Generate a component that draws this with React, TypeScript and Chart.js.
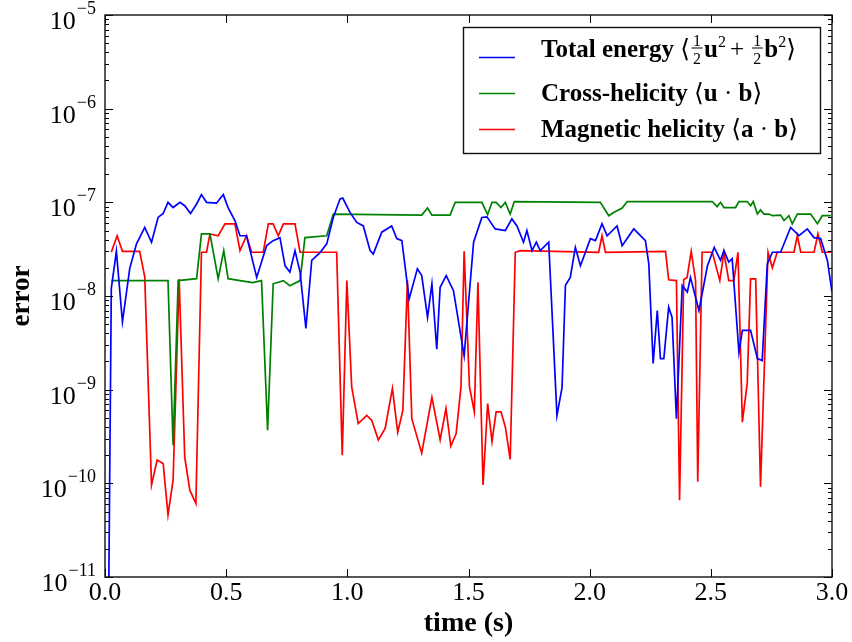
import React, { useEffect, useRef } from "react";
import { Chart, registerables } from "chart.js";

Chart.register(...registerables);

// ---------------- data ----------------
const seriesLabels = ["Total energy", "Cross-helicity", "Magnetic helicity"];
const seriesColors = ["#0000ff", "#008000", "#ff0000"];

const energyTime = [
  0.015, 0.026, 0.047, 0.072, 0.102, 0.130, 0.164, 0.192, 0.219, 0.240, 0.260, 0.281, 0.309, 0.329,
  0.353, 0.378, 0.398, 0.419, 0.460, 0.488, 0.508, 0.536, 0.557, 0.584, 0.626, 0.667, 0.694, 0.722,
  0.743, 0.763, 0.784, 0.805, 0.829, 0.853, 0.887, 0.915, 0.942, 0.970, 0.981, 1.011, 1.039, 1.066,
  1.094, 1.107, 1.142, 1.183, 1.204, 1.225, 1.255, 1.289, 1.307, 1.331, 1.349, 1.369, 1.383, 1.408,
  1.438, 1.482, 1.521, 1.555, 1.576, 1.610, 1.652, 1.679, 1.700, 1.727, 1.741, 1.762, 1.780, 1.796,
  1.831, 1.865, 1.886, 1.900, 1.920, 1.941, 1.962, 2.003, 2.024, 2.051, 2.072, 2.113, 2.134, 2.182,
  2.230, 2.244, 2.262, 2.279, 2.292, 2.306, 2.326, 2.340, 2.358, 2.382, 2.403, 2.416, 2.451, 2.486,
  2.514, 2.540, 2.554, 2.574, 2.588, 2.616, 2.630, 2.664, 2.692, 2.712, 2.733, 2.754, 2.788, 2.829,
  2.864, 2.898, 2.926, 2.953, 2.981, 3.0,
];
const energyError = [
  5e-12, 1.2e-8, 3.0e-8, 5.3e-9, 1.96e-8, 3.6e-8, 5.4e-8, 3.75e-8, 6.9e-8, 7.6e-8, 1.0e-7, 8.8e-8, 1.0e-7, 9.2e-8,
  7.6e-8, 9.6e-8, 1.21e-7, 1.0e-7, 9.8e-8, 1.21e-7, 8.8e-8, 6.4e-8, 4.4e-8, 4.4e-8, 1.58e-8, 3.45e-8, 3.9e-8, 4.2e-8,
  2.1e-8, 1.8e-8, 3.05e-8, 1.8e-8, 4.5e-9, 2.4e-8, 2.9e-8, 3.6e-8, 6.9e-8, 1.09e-7, 1.11e-7, 7.8e-8, 6.1e-8, 5.6e-8,
  3.05e-8, 2.8e-8, 4.8e-8, 5.6e-8, 4.1e-8, 3.9e-8, 9.3e-9, 1.95e-8, 1.65e-8, 5.9e-9, 1.35e-8, 2.7e-9, 1.24e-8, 1.65e-8,
  1.14e-8, 2.3e-9, 3.75e-8, 6.9e-8, 7.0e-8, 5.2e-8, 5.0e-8, 6.65e-8, 5.6e-8, 3.75e-8, 5.0e-8, 3.05e-8, 3.75e-8, 3.05e-8,
  3.75e-8, 5.3e-10, 1.05e-9, 1.3e-8, 1.58e-8, 3.3e-8, 2.1e-8, 4.1e-8, 3.9e-8, 5.9e-8, 4.4e-8, 5.6e-8, 3.45e-8, 5.2e-8,
  3.9e-8, 2.2e-8, 1.9e-9, 7.0e-9, 2.15e-9, 2.15e-9, 7.6e-9, 5.9e-9, 4.9e-10, 1.29e-8, 1.1e-8, 1.58e-8, 7.0e-9, 2.1e-8,
  3.3e-8, 2.4e-8, 3.05e-8, 2.3e-8, 2.5e-8, 2.5e-9, 4.3e-9, 4.3e-9, 2.15e-9, 2.05e-9, 2.2e-8, 2.93e-8, 2.93e-8, 5.4e-8,
  4.4e-8, 5.2e-8, 4.2e-8, 4.1e-8, 2.4e-8, 1.1e-8,
];

const crossTime = [
  0.026, 0.260, 0.281, 0.302, 0.378, 0.398, 0.433, 0.467, 0.490, 0.508, 0.557, 0.610, 0.646, 0.671,
  0.694, 0.736, 0.763, 0.805, 0.825, 0.915, 0.942, 1.307, 1.331, 1.349, 1.424, 1.445, 1.555, 1.579,
  1.597, 1.614, 1.634, 1.652, 1.672, 1.689, 2.044, 2.079, 2.099, 2.134, 2.155, 2.506, 2.526, 2.540,
  2.554, 2.602, 2.616, 2.650, 2.664, 2.675, 2.692, 2.705, 2.719, 2.740, 2.754, 2.788, 2.802, 2.822,
  2.836, 2.857, 2.912, 2.940, 2.960, 2.995,
];
const crossError = [
  1.46e-8, 1.46e-8, 2.55e-10, 1.46e-8, 1.53e-8, 4.6e-8, 4.6e-8, 1.53e-8, 3.05e-8, 1.53e-8, 1.46e-8, 1.39e-8, 1.46e-8, 3.7e-10,
  1.35e-8, 1.46e-8, 1.29e-8, 1.46e-8, 4.2e-8, 4.4e-8, 7.5e-8, 7.3e-8, 8.7e-8, 7.3e-8, 7.3e-8, 1.0e-7, 1.0e-7, 7.4e-8,
  1.0e-7, 1.0e-7, 8.8e-8, 1.0e-7, 7.5e-8, 1.02e-7, 1.0e-7, 7.2e-8, 7.8e-8, 8.7e-8, 1.02e-7, 1.02e-7, 9.0e-8, 1.0e-7,
  8.8e-8, 8.8e-8, 1.02e-7, 1.02e-7, 9.2e-8, 1.02e-7, 7.5e-8, 8.3e-8, 7.5e-8, 7.5e-8, 7.2e-8, 7.3e-8, 6.4e-8, 7.2e-8,
  5.9e-8, 7.5e-8, 7.5e-8, 5.9e-8, 7.2e-8, 7.2e-8,
];

const magneticTime = [
  0.026, 0.050, 0.072, 0.143, 0.164, 0.192, 0.215, 0.240, 0.260, 0.281, 0.306, 0.329, 0.350, 0.375,
  0.398, 0.419, 0.433, 0.467, 0.495, 0.536, 0.557, 0.584, 0.605, 0.653, 0.674, 0.694, 0.715, 0.736,
  0.784, 0.805, 0.956, 0.979, 0.998, 1.018, 1.045, 1.080, 1.101, 1.128, 1.156, 1.186, 1.208, 1.229,
  1.248, 1.266, 1.307, 1.349, 1.383, 1.407, 1.427, 1.449, 1.469, 1.482, 1.504, 1.524, 1.539, 1.560,
  1.579, 1.597, 1.614, 1.634, 1.652, 1.672, 1.693, 1.714, 2.037, 2.051, 2.065, 2.313, 2.326, 2.358,
  2.371, 2.388, 2.402, 2.419, 2.437, 2.446, 2.464, 2.506, 2.537, 2.554, 2.574, 2.595, 2.612, 2.630,
  2.650, 2.664, 2.685, 2.705, 2.736, 2.754, 2.774, 2.843, 2.857, 2.871, 2.926, 2.942, 2.960, 2.995,
];
const magneticError = [
  2.93e-8, 4.4e-8, 3.0e-8, 3.0e-8, 1.6e-8, 9.6e-11, 1.77e-10, 1.63e-10, 4.6e-11, 1.08e-10, 1.52e-8, 1.9e-10, 8.45e-11, 6.1e-11,
  2.93e-8, 2.93e-8, 4.6e-8, 4.4e-8, 5.9e-8, 5.9e-8, 3.05e-8, 4.4e-8, 2.93e-8, 2.93e-8, 5.9e-8, 5.9e-8, 4.4e-8, 5.9e-8,
  5.9e-8, 2.93e-8, 2.93e-8, 2.0e-10, 1.46e-8, 1.07e-9, 4.35e-10, 5.3e-10, 4.7e-10, 2.9e-10, 3.85e-10, 1.03e-9, 3.5e-10, 6.0e-10,
  1.46e-8, 4.9e-10, 2.1e-10, 8.3e-10, 2.9e-10, 6.3e-10, 2.5e-10, 3.4e-10, 1.07e-9, 3.0e-8, 1.07e-9, 5.8e-10, 1.4e-8, 9.6e-11,
  7.1e-10, 2.8e-10, 5.8e-10, 5.8e-10, 4.0e-10, 1.8e-10, 2.93e-8, 3.05e-8, 2.93e-8, 4.4e-8, 2.93e-8, 3.0e-8, 1.49e-8, 1.46e-8,
  6.6e-11, 1.49e-8, 1.58e-8, 3.0e-8, 1.46e-8, 1.04e-10, 2.93e-8, 2.93e-8, 1.46e-8, 2.93e-8, 1.46e-8, 1.46e-8, 2.93e-8, 4.5e-10,
  1.16e-9, 1.52e-8, 1.52e-8, 9.2e-11, 2.93e-8, 2.0e-8, 2.93e-8, 2.93e-8, 4.4e-8, 2.93e-8, 2.93e-8, 4.6e-8, 2.93e-8, 2.93e-8,
];

const xMin = 0;
const xMax = 3;
const xStep = 0.5;
const yDecadeExponents = [-11, -10, -9, -8, -7, -6, -5];

// ---------------- styling ----------------
const SERIF = "'Liberation Serif', 'DejaVu Serif', serif";

function zip(t: number[], v: number[]) {
  return t.map((x, i) => ({ x, y: v[i] }));
}

type Run = { text: string; font: string; dy?: number } | { frac: [string, string] };

function drawRuns(ctx: CanvasRenderingContext2D, x0: number, y: number, runs: Run[]) {
  let x = x0;
  for (const r of runs) {
    if ("frac" in r) {
      ctx.font = `16px ${SERIF}`;
      const w = Math.max(ctx.measureText(r.frac[0]).width, ctx.measureText(r.frac[1]).width) + 3;
      ctx.textAlign = "center";
      ctx.fillText(r.frac[0], x + w / 2 + 1.5, y - 11);
      ctx.fillText(r.frac[1], x + w / 2 + 1.5, y + 7);
      ctx.fillRect(x + 1.5, y - 9.5, w, 1);
      ctx.textAlign = "left";
      x += w + 3;
    } else {
      ctx.font = r.font;
      ctx.fillText(r.text, x, y + (r.dy || 0));
      x += ctx.measureText(r.text).width;
    }
  }
}

const decorPlugin = {
  id: "decor",
  afterDraw(chart: any) {
    const ctx: CanvasRenderingContext2D = chart.ctx;
    const { left, right, top, bottom } = chart.chartArea;
    const xs = chart.scales.x;
    const ys = chart.scales.y;
    ctx.save();
    ctx.strokeStyle = "#000";
    ctx.fillStyle = "#000";
    ctx.lineWidth = 1;

    // inward tick marks
    ctx.beginPath();
    for (const e of yDecadeExponents) {
      const major = Math.pow(10, e);
      const py = Math.round(ys.getPixelForValue(major)) + 0.5;
      ctx.moveTo(left, py); ctx.lineTo(left + 8, py);
      ctx.moveTo(right, py); ctx.lineTo(right - 8, py);
      if (e < -5) {
        for (let k = 2; k <= 9; k++) {
          const my = Math.round(ys.getPixelForValue(k * major)) + 0.5;
          ctx.moveTo(left, my); ctx.lineTo(left + 4, my);
          ctx.moveTo(right, my); ctx.lineTo(right - 4, my);
        }
      }
    }
    for (const t of xs.ticks) {
      const px = Math.round(xs.getPixelForValue(t.value)) + 0.5;
      ctx.moveTo(px, bottom); ctx.lineTo(px, bottom - 8);
      ctx.moveTo(px, top); ctx.lineTo(px, top + 8);
    }
    ctx.stroke();

    // frame
    ctx.lineWidth = 1.4;
    ctx.strokeStyle = "#111";
    ctx.strokeRect(left, top, right - left, bottom - top);

    // y tick labels 10^e
    ctx.fillStyle = "#000";
    for (const e of yDecadeExponents) {
      const py = ys.getPixelForValue(Math.pow(10, e));
      const expText = "\u2212" + String(-e);
      ctx.font = `18px ${SERIF}`;
      const ew = ctx.measureText(expText).width;
      const rightEdge = left - 9;
      ctx.textAlign = "left";
      ctx.textBaseline = "alphabetic";
      ctx.fillText(expText, rightEdge - ew, py - 1);
      ctx.font = `26px ${SERIF}`;
      const bw = ctx.measureText("10").width;
      ctx.fillText("10", rightEdge - ew - bw - 1, py + 14);
    }

    // legend
    const lx = 463.5, ly = 27.5, lw = 357, lh = 126;
    ctx.fillStyle = "#fff";
    ctx.fillRect(lx, ly, lw, lh);
    ctx.strokeStyle = "#111";
    ctx.lineWidth = 1.4;
    ctx.strokeRect(lx, ly, lw, lh);
    const lineYs = [57.5, 93.5, 129.5];
    const textYs = [57, 101, 137];
    const B = `bold 25px ${SERIF}`;
    const R = `25px ${SERIF}`;
    const S = `16px ${SERIF}`;
    const maths: Run[][] = [
      [
        { text: "\u27E8", font: R }, { frac: ["1", "2"] }, { text: "u", font: B }, { text: "2 ", font: S, dy: -10 },
        { text: "+ ", font: R }, { frac: ["1", "2"] }, { text: "b", font: B }, { text: "2", font: S, dy: -10 },
        { text: "\u27E9", font: R },
      ],
      [{ text: "\u27E8", font: R }, { text: "u", font: B }, { text: " \u00B7 ", font: R }, { text: "b", font: B }, { text: "\u27E9", font: R }],
      [{ text: "\u27E8", font: R }, { text: "a", font: B }, { text: " \u00B7 ", font: R }, { text: "b", font: B }, { text: "\u27E9", font: R }],
    ];
    seriesLabels.forEach((label, i) => {
      ctx.strokeStyle = seriesColors[i];
      ctx.lineWidth = 1.6;
      ctx.beginPath();
      ctx.moveTo(479, lineYs[i]);
      ctx.lineTo(515, lineYs[i]);
      ctx.stroke();
      ctx.fillStyle = "#000";
      ctx.textAlign = "left";
      ctx.textBaseline = "alphabetic";
      drawRuns(ctx, 541, textYs[i], [{ text: label + " ", font: B }, ...maths[i]]);
    });
    ctx.restore();
  },
};

export default function App() {
  const canvasRef = useRef<HTMLCanvasElement | null>(null);

  useEffect(() => {
    if (!canvasRef.current) return;
    const series = [
      zip(energyTime, energyError),
      zip(crossTime, crossError),
      zip(magneticTime, magneticError),
    ];
    const chart = new Chart(canvasRef.current, {
      type: "line",
      data: {
        datasets: series.map((d, i) => ({
          label: seriesLabels[i],
          data: d,
          borderColor: seriesColors[i],
          backgroundColor: seriesColors[i],
          borderWidth: 1.7,
          pointRadius: 0,
          tension: 0,
          fill: false,
        })),
      },
      options: {
        animation: false,
        responsive: true,
        maintainAspectRatio: false,
        layout: { padding: { top: 15, right: 20, left: 0, bottom: 0 } },
        plugins: { legend: { display: false }, tooltip: { enabled: false } },
        scales: {
          x: {
            type: "linear",
            min: xMin,
            max: xMax,
            grid: { display: false, drawTicks: false },
            border: { display: false },
            ticks: {
              stepSize: xStep,
              padding: 1,
              color: "#000",
              font: { family: SERIF, size: 26 },
              callback: (v: any) => Number(v).toFixed(1),
              maxRotation: 0,
            },
            title: {
              display: true,
              text: "time (s)",
              color: "#000",
              font: { family: SERIF, size: 28, weight: "bold", lineHeight: 1.0 },
              padding: { top: 0, bottom: 4 },
            },
            afterFit: (s: any) => { s.height = 65; },
          },
          y: {
            type: "logarithmic",
            min: 1e-11,
            max: 1e-5,
            grid: { display: false, drawTicks: false },
            border: { display: false },
            ticks: { display: false },
            title: {
              display: true,
              text: "error",
              color: "#000",
              font: { family: SERIF, size: 27, weight: "bold", lineHeight: 1.0 },
              padding: { top: 9, bottom: 0 },
            },
            afterFit: (s: any) => { s.width = 105; },
          },
        },
      },
      plugins: [decorPlugin],
    } as any);
    return () => chart.destroy();
  }, []);

  return (
    <div style={{ position: "fixed", left: 0, top: 0, width: 852, height: 642, background: "#fff" }}>
      <canvas ref={canvasRef} />
    </div>
  );
}
